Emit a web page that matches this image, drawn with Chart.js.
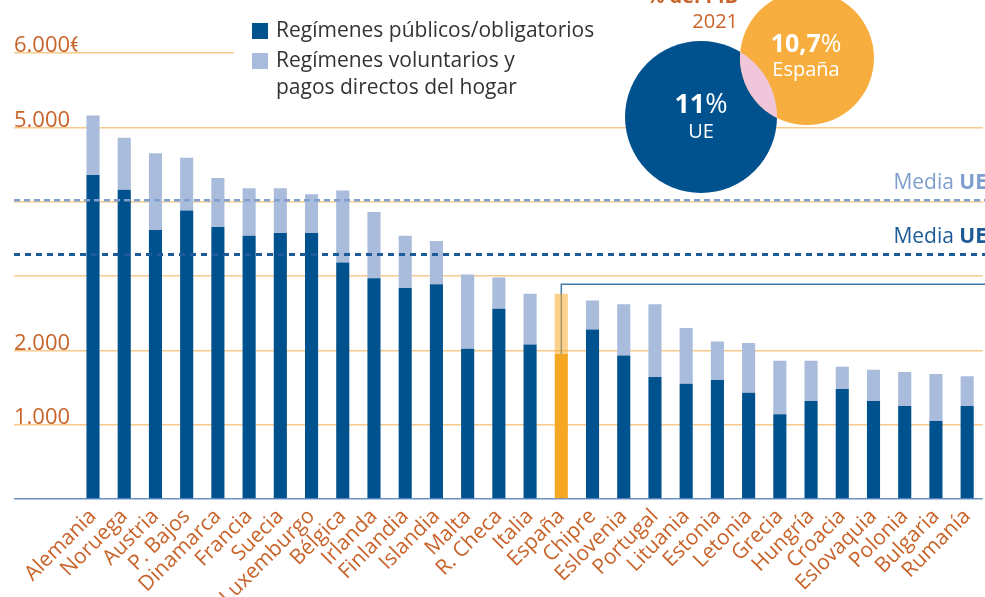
<!DOCTYPE html>
<html lang="es">
<head>
<meta charset="utf-8">
<script src="https://cdn.jsdelivr.net/npm/chart.js@4.4.0/dist/chart.umd.min.js"></script>
<style>
  html, body { margin: 0; padding: 0; background: #fff; overflow: hidden; }
  #wrap { position: relative; width: 990px; height: 640px; }
</style>
</head>
<body>
<div id="wrap"><canvas id="grafico"></canvas></div>
<script>
// Gasto sanitario por habitante (€), 2021
const categorias = ['Alemania', 'Noruega', 'Austria', 'P. Bajos', 'Dinamarca', 'Francia', 'Suecia',
  'Luxemburgo', 'Bélgica', 'Irlanda', 'Finlandia', 'Islandia', 'Malta', 'R. Checa', 'Italia',
  'España', 'Chipre', 'Eslovenia', 'Portugal', 'Lituania', 'Estonia', 'Letonia', 'Grecia',
  'Hungría', 'Croacia', 'Eslovaquia', 'Polonia', 'Bulgaria', 'Rumanía'];
const publicos = [4360, 4160, 3620, 3880, 3660, 3540, 3580, 3580, 3180, 2970, 2840, 2890, 2020, 2560, 2080,
  1950, 2280, 1930, 1640, 1550, 1600, 1430, 1140, 1320, 1480, 1320, 1250, 1050, 1250];
const voluntarios = [800, 700, 1030, 710, 660, 640, 600, 520, 970, 890, 700, 580, 1000, 420, 680,
  810, 390, 690, 980, 750, 520, 670, 720, 540, 300, 420, 460, 630, 400];

const mediaUETotal = 4020;
const mediaUEPublico = 3290;
const marcoValor = 2890;

const ticksY = [0, 1000, 2000, 3000, 4000, 5000, 6000];
const etiquetasY = ['', '1.000', '2.000', '', '', '5.000', '6.000€'];

const leyenda = ['Regímenes públicos/obligatorios', 'Regímenes voluntarios y', 'pagos directos del hogar'];
const pibTitulo = '% del PIB';
const pibAnio = '2021';
const pibUE = ['11', '%', 'UE'];
const pibEspana = ['10,7', '%', 'España'];

const AZUL = '#00528f';
const AZUL_CLARO = '#a9bcdc';
const NARANJA = '#f5a623';
const NARANJA_CLARO = 'rgba(247,172,50,0.55)';
const TEXTO_NARANJA = '#c8632a';
const REJILLA = '#f8c98c';
const FUENTE = "'Open Sans', sans-serif";

const esEspana = c => c === 'España';

const decoracion = {
  id: 'decoracion',
  beforeDatasetsDraw(chart) {
    const { ctx, scales: { x, y } } = chart;
    // marco desde España
    const xe = x.getPixelForValue(categorias.indexOf('España'));
    const ym = y.getPixelForValue(marcoValor);
    ctx.save();
    ctx.strokeStyle = '#3f7aa8';
    ctx.lineWidth = 1.5;
    ctx.beginPath();
    ctx.moveTo(xe, y.getPixelForValue(0));
    ctx.lineTo(xe, ym);
    ctx.lineTo(chart.width + 5, ym);
    ctx.stroke();
    ctx.restore();
  },
  afterDatasetsDraw(chart) {
    const { ctx, scales: { y } } = chart;
    const lineas = [
      { v: mediaUETotal, c: '#7f9fcf', dash: [6, 4], w: 2.5 },
      { v: mediaUEPublico, c: '#1d5a98', dash: [6, 5], w: 3 }
    ];
    ctx.save();
    lineas.forEach(l => {
      const py = y.getPixelForValue(l.v);
      ctx.strokeStyle = l.c;
      ctx.lineWidth = l.w;
      ctx.setLineDash(l.dash);
      ctx.beginPath();
      ctx.moveTo(14, py);
      ctx.lineTo(chart.width, py);
      ctx.stroke();
      // etiqueta Media UE
      ctx.setLineDash([]);
      ctx.fillStyle = l.c;
      ctx.textBaseline = 'alphabetic';
      ctx.textAlign = 'right';
      ctx.font = 'bold 21px ' + FUENTE;
      const wUE = ctx.measureText('UE').width;
      ctx.fillText('UE', 987, py - 11);
      ctx.font = '21px ' + FUENTE;
      ctx.fillText('Media ', 987 - wUE, py - 11);
    });
    ctx.restore();
  },
  afterDraw(chart) {
    const { ctx } = chart;
    ctx.save();
    // tapa la línea de 6.000 bajo la leyenda
    ctx.fillStyle = '#fff';
    ctx.fillRect(234, 44, 760, 20);

    // leyenda
    ctx.fillStyle = AZUL;
    ctx.fillRect(252, 23, 16, 16);
    ctx.fillStyle = AZUL_CLARO;
    ctx.fillRect(252, 53, 16, 16);
    ctx.fillStyle = '#333';
    ctx.font = '21px ' + FUENTE;
    ctx.textAlign = 'left';
    ctx.textBaseline = 'middle';
    ctx.fillText(leyenda[0], 276, 31);
    ctx.fillText(leyenda[1], 276, 61);
    ctx.fillText(leyenda[2], 276, 88);

    // círculos % del PIB
    const cUE = { x: 701, y: 117, r: 76 };
    const cES = { x: 807, y: 58, r: 67 };
    ctx.fillStyle = AZUL;
    ctx.beginPath(); ctx.arc(cUE.x, cUE.y, cUE.r, 0, Math.PI * 2); ctx.fill();
    ctx.fillStyle = '#f7ae3e';
    ctx.beginPath(); ctx.arc(cES.x, cES.y, cES.r, 0, Math.PI * 2); ctx.fill();
    ctx.save();
    ctx.beginPath(); ctx.arc(cUE.x, cUE.y, cUE.r, 0, Math.PI * 2); ctx.clip();
    ctx.fillStyle = '#efc6da';
    ctx.beginPath(); ctx.arc(cES.x, cES.y, cES.r, 0, Math.PI * 2); ctx.fill();
    ctx.restore();

    const valorPct = (partes, cx, base, size) => {
      ctx.font = 'bold ' + size + 'px ' + FUENTE;
      const w1 = ctx.measureText(partes[0]).width;
      ctx.font = size + 'px ' + FUENTE;
      const w2 = ctx.measureText(partes[1]).width;
      const x0 = cx - (w1 + w2) / 2;
      ctx.textAlign = 'left';
      ctx.font = 'bold ' + size + 'px ' + FUENTE;
      ctx.fillText(partes[0], x0, base);
      ctx.font = size + 'px ' + FUENTE;
      ctx.fillText(partes[1], x0 + w1, base);
    };
    ctx.fillStyle = '#fff';
    ctx.textBaseline = 'alphabetic';
    valorPct(pibUE, 701, 113, 27);
    valorPct(pibEspana, 806, 52, 25);
    ctx.textAlign = 'center';
    ctx.font = '20px ' + FUENTE;
    ctx.fillText(pibUE[2], 701, 138);
    ctx.fillText(pibEspana[2], 806, 76);

    ctx.fillStyle = TEXTO_NARANJA;
    ctx.textAlign = 'right';
    ctx.font = '20px ' + FUENTE;
    ctx.fillText(pibAnio, 738, 28);
    ctx.font = 'bold 20px ' + FUENTE;
    ctx.fillText(pibTitulo, 738, 3);
    ctx.restore();
  }
};

Chart.defaults.font.family = FUENTE;

new Chart(document.getElementById('grafico'), {
  type: 'bar',
  data: {
    labels: categorias,
    datasets: [
      {
        label: leyenda[0],
        data: publicos,
        backgroundColor: categorias.map(c => esEspana(c) ? NARANJA : AZUL)
      },
      {
        label: leyenda[1] + ' ' + leyenda[2],
        data: voluntarios,
        backgroundColor: categorias.map(c => esEspana(c) ? NARANJA_CLARO : AZUL_CLARO)
      }
    ]
  },
  options: {
    responsive: true,
    maintainAspectRatio: false,
    animation: false,
    layout: { padding: { left: 14, right: 1.4, top: 53, bottom: 0 } },
    datasets: { bar: { barPercentage: 0.42, categoryPercentage: 1 } },
    plugins: { legend: { display: false }, tooltip: { enabled: false } },
    scales: {
      x: {
        stacked: true,
        grid: { display: false, drawTicks: false },
        border: { display: false },
        afterFit: s => { s.height = 141; },
        ticks: {
          autoSkip: false,
          minRotation: 45,
          maxRotation: 45,
          padding: 5,
          color: TEXTO_NARANJA,
          font: { size: 21 }
        }
      },
      y: {
        stacked: true,
        min: 0,
        max: 6000,
        afterBuildTicks: s => { s.ticks = ticksY.map(v => ({ value: v })); },
        afterFit: s => { s.width = 63.4; },
        border: { display: false },
        grid: {
          color: c => (c.tick && c.tick.value === 0) ? '#6a93c4' : REJILLA,
          lineWidth: 1.5,
          tickLength: 63.4
        },
        ticks: {
          crossAlign: 'far',
          labelOffset: -7,
          color: TEXTO_NARANJA,
          font: { size: 22 },
          callback: v => etiquetasY[ticksY.indexOf(v)]
        }
      }
    }
  },
  plugins: [decoracion]
});
</script>
</body>
</html>
